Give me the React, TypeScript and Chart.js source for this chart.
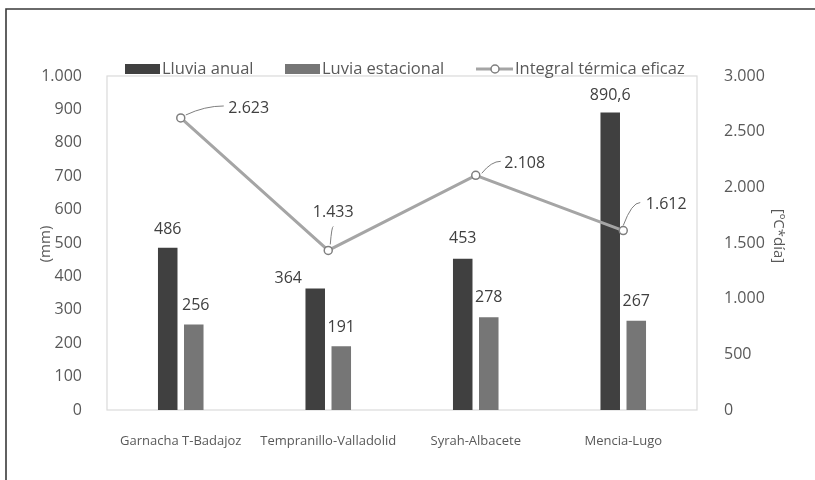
import React, { useEffect, useRef } from "react";
import { Chart, registerables } from "chart.js";

Chart.register(...registerables);

const categories = ["Garnacha T-Badajoz", "Tempranillo-Valladolid", "Syrah-Albacete", "Mencia-Lugo"];
const lluviaAnual = [486, 364, 453, 890.6];
const lluviaEstacional = [256, 191, 278, 267];
const integralTermica = [2623, 1433, 2108, 1612];
const leftTicks = { min: 0, max: 1000, step: 100 };
const rightTicks = { min: 0, max: 3000, step: 500 };
const legendLabels = ["Lluvia anual", "Luvia estacional", "Integral térmica eficaz"];
const axisTitles = { left: "(mm)", right: "[ºC*día]" };

// label placement (style)
const anualLabelOffsets = [{ dx: 0, dy: -18 }, { dx: -27, dy: -10 }, { dx: 0, dy: -20 }, { dx: 0, dy: -17 }];
const estLabelOffsets = [{ dx: 2, dy: -19 }, { dx: 0, dy: -19 }, { dx: 0, dy: -20 }, { dx: 0, dy: -19 }];
const lineLabelOffsets = [
  { dx: 68, dy: -10, x1: 5, y1: -3, x2: 43, y2: -12 },
  { dx: 5, dy: -38, x1: 2, y1: -6, x2: 5, y2: -24 },
  { dx: 49, dy: -12, x1: 6, y1: -2, x2: 25, y2: -14 },
  { dx: 43, dy: -26, x1: 0, y1: -5, x2: 17, y2: -28 },
];

const FONT = "'Open Sans', 'Liberation Sans', sans-serif";
const DARK = "#404040";
const MID = "#767676";
const LINE = "#a5a5a5";
const TEXT = "#595959";

function fmt(v: number): string {
  const neg = v < 0;
  const a = Math.abs(v);
  const intPart = Math.trunc(a);
  const dec = Math.round((a - intPart) * 10);
  const s = String(intPart).replace(/\B(?=(\d{3})+(?!\d))/g, ".");
  return (neg ? "-" : "") + s + (dec ? "," + dec : "");
}

const decorPlugin = {
  id: "decor",
  beforeDraw(chart: any) {
    const { ctx, chartArea } = chart;
    ctx.save();
    // outer frame (left and top)
    ctx.strokeStyle = "#3a3a3a";
    ctx.lineWidth = 1.6;
    ctx.beginPath();
    ctx.moveTo(6, 480);
    ctx.lineTo(6, 9);
    ctx.lineTo(815, 9);
    ctx.stroke();
    // plot area border
    ctx.strokeStyle = "#dadada";
    ctx.lineWidth = 1.2;
    ctx.strokeRect(chartArea.left, chartArea.top, chartArea.right - chartArea.left, chartArea.bottom - chartArea.top);
    ctx.restore();
  },
  afterDraw(chart: any) {
    const { ctx } = chart;
    ctx.save();
    // legend
    ctx.font = `16.5px ${FONT}`;
    ctx.textBaseline = "middle";
    ctx.textAlign = "left";
    const ly = 69;
    ctx.fillStyle = DARK;
    ctx.fillRect(125, 64, 35, 10);
    ctx.fillStyle = TEXT;
    ctx.fillText(legendLabels[0], 162, ly);
    ctx.fillStyle = MID;
    ctx.fillRect(285, 64, 35, 10);
    ctx.fillStyle = TEXT;
    ctx.fillText(legendLabels[1], 322, ly);
    ctx.strokeStyle = LINE;
    ctx.lineWidth = 3;
    ctx.beginPath();
    ctx.moveTo(476, ly);
    ctx.lineTo(513, ly);
    ctx.stroke();
    ctx.beginPath();
    ctx.arc(495, ly, 4, 0, Math.PI * 2);
    ctx.fillStyle = "#ffffff";
    ctx.fill();
    ctx.strokeStyle = "#7f7f7f";
    ctx.lineWidth = 1.5;
    ctx.stroke();
    ctx.fillStyle = TEXT;
    ctx.fillText(legendLabels[2], 515, ly);

    // axis titles
    ctx.font = `15px ${FONT}`;
    ctx.textAlign = "center";
    ctx.fillStyle = TEXT;
    ctx.save();
    ctx.translate(46, 244);
    ctx.rotate(-Math.PI / 2);
    ctx.fillText(axisTitles.left, 0, 0);
    ctx.restore();
    ctx.save();
    ctx.translate(778, 236);
    ctx.rotate(Math.PI / 2);
    ctx.fillText(axisTitles.right, 0, 0);
    ctx.restore();

    // data labels
    ctx.font = `16px ${FONT}`;
    ctx.fillStyle = DARK;
    ctx.textAlign = "center";
    ctx.textBaseline = "middle";
    const m0 = chart.getDatasetMeta(0);
    const m1 = chart.getDatasetMeta(1);
    const m2 = chart.getDatasetMeta(2);
    m0.data.forEach((el: any, i: number) => {
      const o = anualLabelOffsets[i];
      ctx.fillText(fmt(lluviaAnual[i]), el.x + o.dx, el.y + o.dy);
    });
    m1.data.forEach((el: any, i: number) => {
      const o = estLabelOffsets[i];
      ctx.fillText(fmt(lluviaEstacional[i]), el.x + o.dx, el.y + o.dy);
    });
    m2.data.forEach((el: any, i: number) => {
      const o = lineLabelOffsets[i];
      ctx.strokeStyle = "#7f7f7f";
      ctx.lineWidth = 1;
      ctx.beginPath();
      const sx = el.x + o.x1, sy = el.y + o.y1, ex = el.x + o.x2, ey = el.y + o.y2;
      ctx.moveTo(sx, sy);
      ctx.quadraticCurveTo(sx + (ex - sx) * 0.5, ey, ex, ey);
      ctx.stroke();
      ctx.fillStyle = DARK;
      ctx.fillText(fmt(integralTermica[i]), el.x + o.dx, el.y + o.dy);
    });
    ctx.restore();
  },
};

export default function App() {
  const ref = useRef<HTMLCanvasElement | null>(null);
  useEffect(() => {
    if (!ref.current) return;
    const chart = new Chart(ref.current, {
      type: "bar",
      data: {
        labels: categories,
        datasets: [
          {
            type: "bar",
            label: legendLabels[0],
            data: lluviaAnual,
            backgroundColor: DARK,
            yAxisID: "y",
            order: 1,
            barPercentage: 0.75,
            categoryPercentage: 0.353,
          },
          {
            type: "bar",
            label: legendLabels[1],
            data: lluviaEstacional,
            backgroundColor: MID,
            yAxisID: "y",
            order: 1,
            barPercentage: 0.75,
            categoryPercentage: 0.353,
          },
          {
            type: "line",
            label: legendLabels[2],
            data: integralTermica,
            borderColor: LINE,
            borderWidth: 3,
            pointRadius: 4,
            pointBackgroundColor: "#ffffff",
            pointBorderColor: "#7f7f7f",
            pointBorderWidth: 1.5,
            tension: 0,
            yAxisID: "y1",
            order: 0,
          } as any,
        ],
      },
      options: {
        responsive: false,
        animation: false,
        layout: { padding: { top: 76, left: 0, right: 0, bottom: 0 } },
        plugins: { legend: { display: false }, tooltip: { enabled: false }, title: { display: false } },
        scales: {
          x: {
            grid: { display: false },
            border: { display: false },
            ticks: { color: TEXT, font: { family: FONT, size: 13 }, padding: 15, maxRotation: 0, autoSkip: false },
            afterFit(s: any) { s.height = 70; },
          },
          y: {
            position: "left",
            min: leftTicks.min,
            max: leftTicks.max,
            grid: { display: false },
            border: { display: false },
            ticks: {
              stepSize: leftTicks.step,
              color: TEXT,
              font: { family: FONT, size: 16 },
              padding: 17,
              callback: (v: any) => fmt(Number(v)),
            },
            afterFit(s: any) { s.width = 107; },
          },
          y1: {
            position: "right",
            min: rightTicks.min,
            max: rightTicks.max,
            grid: { display: false },
            border: { display: false },
            ticks: {
              stepSize: rightTicks.step,
              color: TEXT,
              font: { family: FONT, size: 16 },
              padding: 19,
              callback: (v: any) => fmt(Number(v)),
            },
            afterFit(s: any) { s.width = 118; },
          },
        },
      },
      plugins: [decorPlugin],
    });
    return () => chart.destroy();
  }, []);
  return (
    <div style={{ position: "fixed", left: 0, top: 0, width: 815, height: 480, background: "#fff" }}>
      <canvas ref={ref} width={815} height={480} style={{ width: 815, height: 480, display: "block" }} />
    </div>
  );
}
